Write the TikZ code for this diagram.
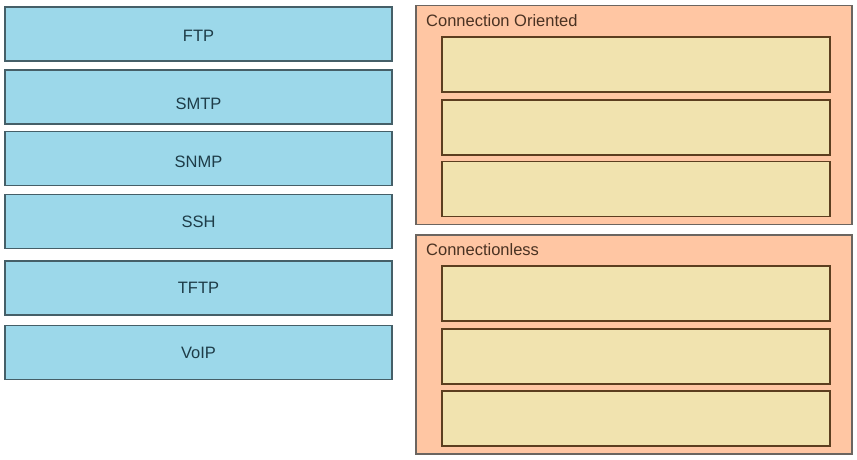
\documentclass[tikz,border=0pt]{standalone}
\usepackage{fontspec}
\setmainfont{Liberation Sans}
\definecolor{bluefill}{HTML}{9CD8EA}
\definecolor{blueline}{HTML}{455F68}
\definecolor{bluetext}{HTML}{1E3C48}
\definecolor{orfill}{HTML}{FFC6A3}
\definecolor{orline}{HTML}{6B6560}
\definecolor{infill}{HTML}{F1E3AF}
\definecolor{inline}{HTML}{5C3E1F}
\definecolor{titletext}{HTML}{4A3222}
\begin{document}
\begin{tikzpicture}[x=1pt,y=-1pt,
  protobox/.style={draw=blueline,fill=bluefill,line width=1.8pt,inner sep=0pt,minimum width=387pt,minimum height=54pt},
  prototext/.style={anchor=base,text=bluetext,font=\fontsize{16.5}{20}\selectfont,inner sep=0pt},
  groupbox/.style={draw=orline,fill=orfill,line width=1.4pt,inner sep=0pt,minimum width=436pt,minimum height=219pt},
  slotbox/.style={draw=inline,fill=infill,line width=1.6pt,inner sep=0pt,minimum width=388pt,minimum height=55pt},
  grouptitle/.style={anchor=base west,text=titletext,font=\fontsize{16.5}{20}\selectfont,inner sep=0pt}]
\useasboundingbox (0,0) rectangle (857,460);
\fill[white] (0,0) rectangle (857,460);
% left protocol boxes
\node[protobox] (ftp)  at (198.5,34) {};
\node[protobox] (smtp) at (198.5,97) {};
\node[protobox] (snmp) at (198.5,158.5) {};
\node[protobox] (ssh)  at (198.5,221.5) {};
\node[protobox] (tftp) at (198.5,288) {};
\node[protobox] (voip) at (198.5,352.5) {};
\node[prototext] (ftpl)  at (198.5,42) {FTP};
\node[prototext] (smtpl) at (198.5,110) {SMTP};
\node[prototext] (snmpl) at (198.5,167) {SNMP};
\node[prototext] (sshl)  at (198.5,227) {SSH};
\node[prototext] (tftpl) at (198.5,293) {TFTP};
\node[prototext] (voipl) at (198.5,358) {VoIP};
% right groups
\node[groupbox] (co) at (634,115) {};
\node[grouptitle] (cot) at (426,27) {Connection Oriented};
\node[slotbox] (co1) at (636,64.5) {};
\node[slotbox] (co2) at (636,127.5) {};
\node[slotbox] (co3) at (636,189) {};
\node[groupbox] (cl) at (634,344.5) {};
\node[grouptitle] (clt) at (426,255) {Connectionless};
\node[slotbox] (cl1) at (636,293.5) {};
\node[slotbox] (cl2) at (636,356.5) {};
\node[slotbox] (cl3) at (636,418.5) {};
\end{tikzpicture}
\end{document}
